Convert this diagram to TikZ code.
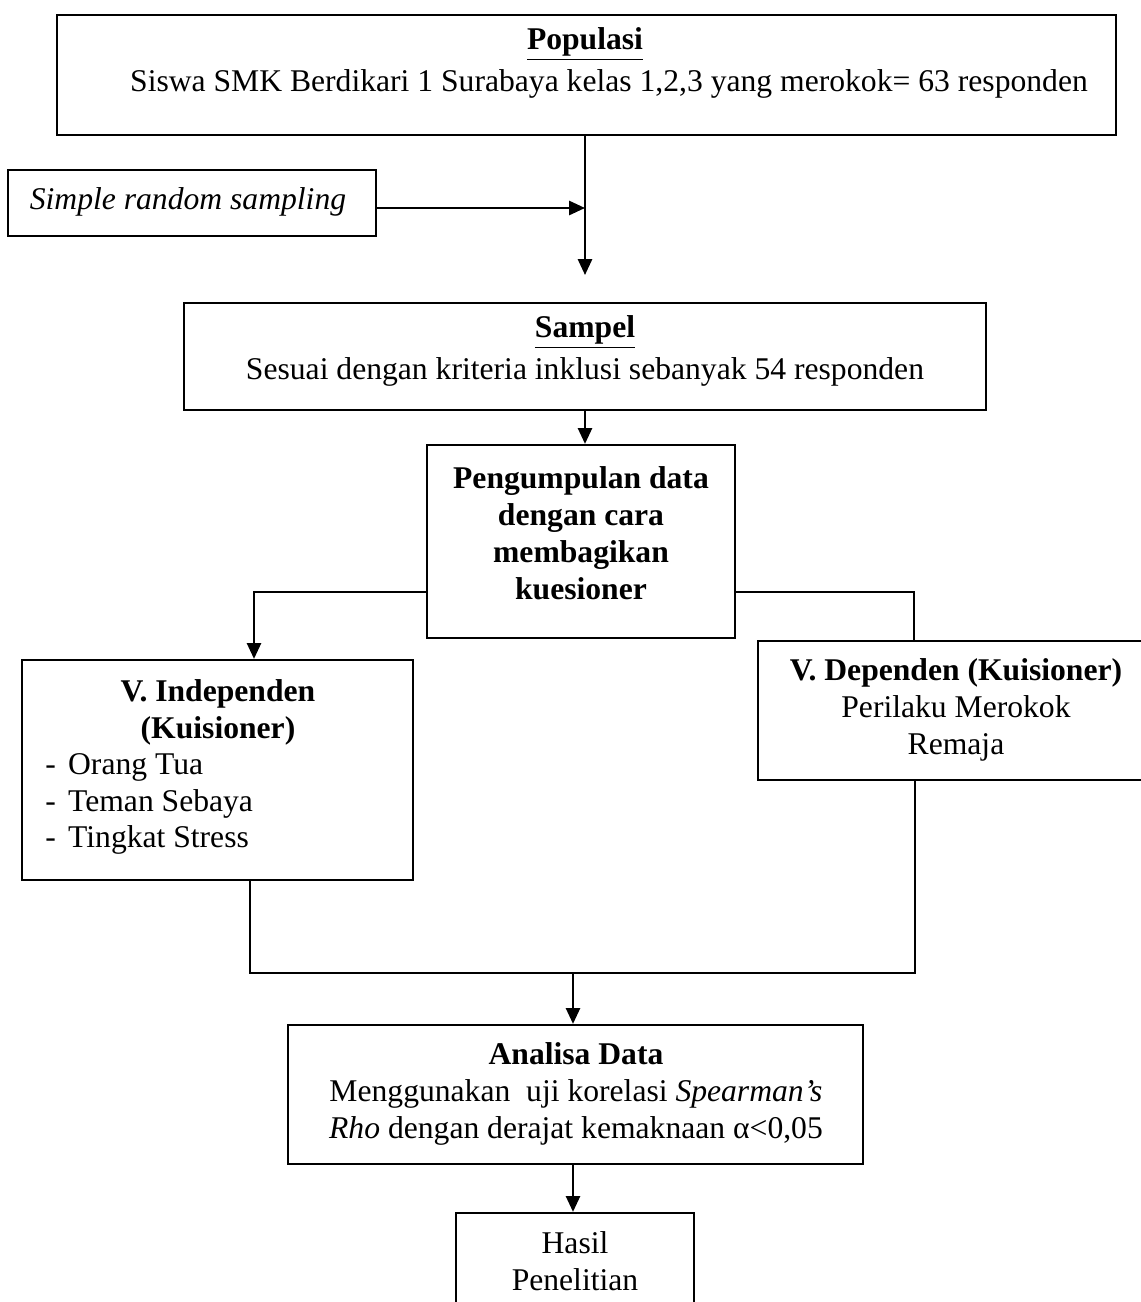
\documentclass[tikz,border=0pt]{standalone}
\usepackage{fontspec}
\setmainfont{Liberation Serif}
\usetikzlibrary{arrows.meta, positioning}

\tikzset{
  kotak/.style={draw, line width=1.3pt, inner sep=0pt},
  teks/.style={inner sep=0pt, align=center, font=\fontsize{18}{21}\selectfont},
  panah/.style={line width=1.3pt, -{Triangle[length=9pt, width=8pt]}},
  garis/.style={line width=1.3pt}
}

\begin{document}
\begin{tikzpicture}[x=0.02cm, y=-0.02cm]
  \useasboundingbox (0,0) rectangle (1141,1302);

  % Populasi
  \node[kotak, minimum width=21.18cm, minimum height=2.4cm] (pop) at (586.5,75) {};
  \node[teks] (popjudul) at (585,44) {\textbf{\underline{Populasi}}};
  \node[teks] (popisi) at (609,84) {Siswa SMK Berdikari 1 Surabaya kelas 1,2,3 yang merokok= 63 responden};

  % Teknik sampling
  \node[kotak, minimum width=7.36cm, minimum height=1.32cm] (srs) at (192,203) {};
  \node[teks] (srsisi) at (188,202) {\textit{Simple random sampling}};
  \coordinate (j1) at (585,208);
  \coordinate (j2) at (585,275);

  % Sampel
  \node[kotak, minimum width=16.04cm, minimum height=2.14cm] (sampel) at (585,356.5) {};
  \node[teks] (sampeljudul) at (585,332) {\textbf{\underline{Sampel}}};
  \node[teks] (sampelisi) at (585,372) {Sesuai dengan kriteria inklusi sebanyak 54 responden};

  % Pengumpulan data
  \node[kotak, minimum width=6.16cm, minimum height=3.86cm] (kumpul) at (581,541.5) {};
  \node[teks, font=\fontsize{18}{21}\selectfont\bfseries] (kumpulisi) at (581,533)
    {Pengumpulan data\\dengan cara\\membagikan\\kuesioner};
  \coordinate (kiri) at (254,592);
  \coordinate (kanan) at (914,592);

  % Variabel
  \node[kotak, minimum width=7.82cm, minimum height=4.4cm] (indep) at (217.5,770) {};
  \node[teks, font=\fontsize{18}{21}\selectfont\bfseries] (indepjudul) at (218,712)
    {V. Independen\\(Kuisioner)};
  \node[teks, anchor=west, align=left] (indepisi) at (45,804)
    {-\hspace{7pt}Orang Tua\\-\hspace{7pt}Teman Sebaya\\-\hspace{7pt}Tingkat Stress};

  \node[kotak, minimum width=7.74cm, minimum height=2.78cm] (dep) at (951.5,710.5) {};
  \node[teks] (depisi) at (956,710)
    {\textbf{V. Dependen (Kuisioner)}\\Perilaku Merokok\\Remaja};
  \coordinate (bawahkiri) at (250,973);
  \coordinate (bawahkanan) at (915,973);
  \coordinate (tengah) at (573,973);

  % Analisa data
  \node[kotak, minimum width=11.5cm, minimum height=2.78cm] (analisa) at (575.5,1094.5) {};
  \node[teks] (analisaisi) at (576,1094)
    {\textbf{Analisa Data}\\Menggunakan\ \ uji korelasi \textit{Spearman’s}\\\textit{Rho} dengan derajat kemaknaan α<0,05};

  % Hasil
  \node[kotak, minimum width=4.76cm, minimum height=2.14cm] (hasil) at (575,1266.5) {};
  \node[teks] (hasilisi) at (575,1261) {Hasil\\Penelitian};

  \draw[garis] (pop.south -| j1) -- (j1);
  \draw[panah] (j1) -- (j2);
  \draw[panah] (srs.east |- j1) -- (j1);
  \draw[panah] (sampel.south -| j1) -- (kumpul.north -| j1);
  \draw[panah] (kumpul.west |- kiri) -| (kiri |- indep.north);
  \draw[garis] (kumpul.east |- kanan) -| (kanan |- dep.north);
  \draw[garis] (indep.south -| bawahkiri) -- (bawahkiri) -- (bawahkanan) -- (dep.south -| bawahkanan);
  \draw[panah] (tengah) -- (tengah |- analisa.north);
  \draw[panah] (analisa.south -| tengah) -- (hasil.north -| tengah);
\end{tikzpicture}
\end{document}
